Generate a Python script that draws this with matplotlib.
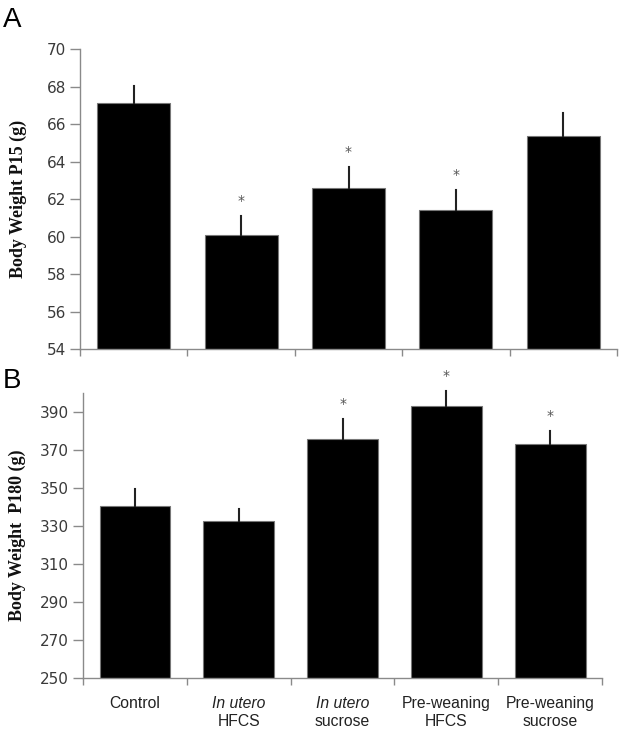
import matplotlib
matplotlib.use("Agg")
import matplotlib.pyplot as plt
from matplotlib.transforms import blended_transform_factory

groups_line1 = ["Control", "In utero", "In utero", "Pre-weaning", "Pre-weaning"]
groups_line2 = ["", "HFCS", "sucrose", "HFCS", "sucrose"]
line1_italic = [False, True, True, False, False]

p15_mean = [67.1, 60.06, 62.57, 61.41, 65.36]
p15_se = [0.93, 1.05, 1.15, 1.07, 1.24]
p15_sig = [False, True, True, True, False]

p180_mean = [340.6, 332.7, 375.6, 393.1, 373.0]
p180_se = [9.1, 6.5, 10.5, 7.9, 6.8]
p180_sig = [False, False, True, True, True]

p15_ticks = [54, 56, 58, 60, 62, 64, 66, 68, 70]
p180_ticks = [250, 270, 290, 310, 330, 350, 370, 390]

fig = plt.figure(figsize=(6.24, 7.32), dpi=100)
axA = fig.add_axes([0.128, 0.523, 0.861, 0.410])
axB = fig.add_axes([0.133, 0.0734, 0.832, 0.390])

axis_col = "#8a8a8a"
tick_col = "#3a3a3a"

def style(ax, ylim, yticks, ylabel, means, ses, sig, star_off):
    x = list(range(len(means)))
    ax.bar(x, means, width=0.68, color="black", edgecolor="#777777", linewidth=0.8,
           bottom=0, zorder=2)
    ax.set_ylim(*ylim)
    ax.set_xlim(-0.5, len(means) - 0.5)
    for xi, m, s in zip(x, means, ses):
        ax.plot([xi, xi], [m, m + s], color="#222222", lw=1.5, clip_on=False, zorder=3)
    for xi, m, s, g in zip(x, means, ses, sig):
        if g:
            ax.text(xi, m + s + star_off, "*", ha="center", va="center",
                    fontsize=10, color="#555555", clip_on=False)
    for sp in ["top", "right"]:
        ax.spines[sp].set_visible(False)
    for sp in ["left", "bottom"]:
        ax.spines[sp].set_color(axis_col)
        ax.spines[sp].set_linewidth(1.0)
    ax.set_yticks(yticks)
    ax.set_yticklabels([str(t) for t in yticks], fontsize=11, color=tick_col,
                       family="DejaVu Sans")
    ax.tick_params(axis="y", direction="out", length=7, width=1.0, color=axis_col, pad=3)
    ax.set_xticks([i - 0.5 for i in range(len(means) + 1)])
    ax.set_xticklabels([])
    ax.tick_params(axis="x", direction="out", length=5, width=1.0, color=axis_col)
    ax.set_ylabel(ylabel, family="Liberation Serif", fontweight="bold", fontsize=13,
                  color="#111111", labelpad=6)

style(axA, (54, 70), p15_ticks, "Body Weight P15 (g)", p15_mean, p15_se, p15_sig, 0.8)
style(axB, (250, 400), p180_ticks, "Body Weight  P180 (g)", p180_mean, p180_se, p180_sig, 8.0)

axA.yaxis.set_label_coords(-0.098, 0.5)
axB.yaxis.set_label_coords(-0.11, 0.5)

trans = blended_transform_factory(axB.transData, axB.transAxes)
for i, (l1, l2, it) in enumerate(zip(groups_line1, groups_line2, line1_italic)):
    axB.annotate(l1, xy=(i, 0), xycoords=trans, xytext=(0, -18.5), textcoords="offset points",
                 ha="center", va="center", fontsize=11.3, family="Liberation Sans",
                 style="italic" if it else "normal", color="#222222")
    if l2:
        axB.annotate(l2, xy=(i, 0), xycoords=trans, xytext=(0, -31), textcoords="offset points",
                     ha="center", va="center", fontsize=11.3, family="Liberation Sans",
                     color="#222222")

fig.text(3 / 624, 1 - 20 / 732, "A", fontsize=20, family="Liberation Sans", va="center", ha="left")
fig.text(3 / 624, 1 - 381 / 732, "B", fontsize=20, family="Liberation Sans", va="center", ha="left")

fig.savefig("out.png", dpi=100)
